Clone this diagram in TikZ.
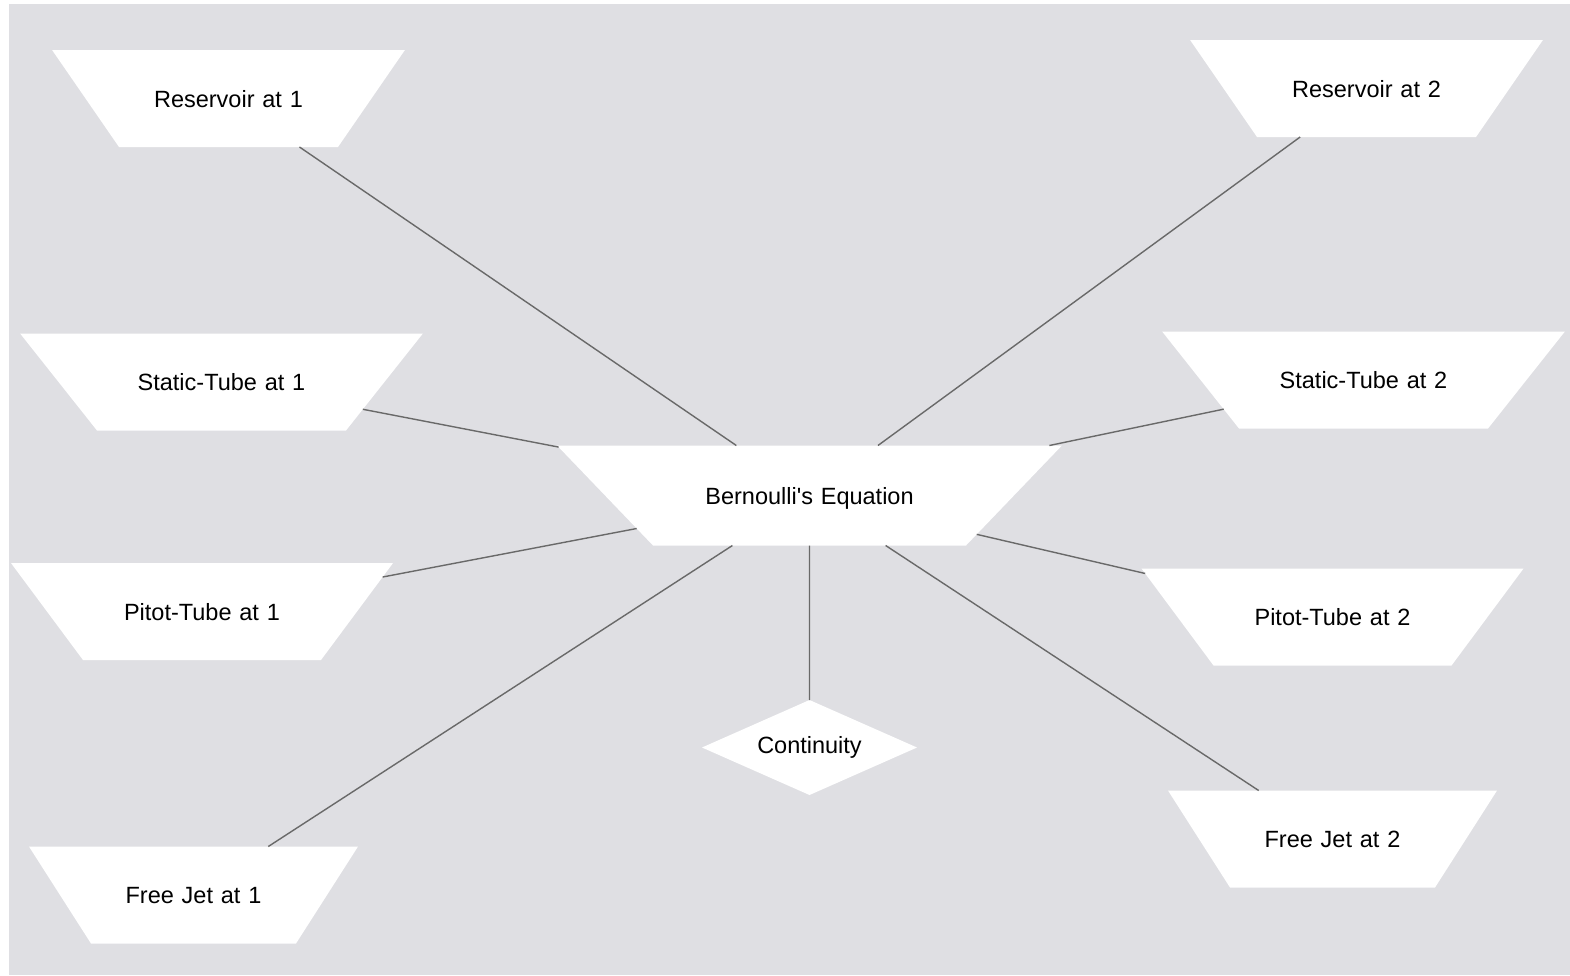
\documentclass[tikz,border=0pt]{standalone}
\usepackage{fontspec}
\newfontfamily\labelfont{Liberation Sans}
\usetikzlibrary{shapes.geometric}
\definecolor{canvas}{RGB}{223,223,227}
\definecolor{wire}{RGB}{105,105,105}
\tikzset{
  % inverted trapezium: #1 = width of the narrow base, #2 = side angle
  topic/.style 2 args={trapezium, shape border rotate=180,
    trapezium angle=#2, fill=white, draw=none, inner sep=0pt, outer sep=0pt,
    text width=#1, align=center, text height=57pt, text depth=40pt,
    font=\labelfont\fontsize{23.5}{26}\selectfont},
  check/.style={diamond, aspect=2.26, fill=white, draw=none, inner sep=0pt,
    outer sep=0pt, minimum width=215pt, minimum height=95pt,
    font=\labelfont\fontsize{23.5}{26}\selectfont},
  link/.style={draw=wire, line width=1.4pt}
}
\begin{document}
\begin{tikzpicture}[x=1pt,y=-1pt]
  \useasboundingbox (0,0) rectangle (1570,975);
  \fill[white] (0,0) rectangle (1570,975);
  \fill[canvas] (9,4) rectangle (1570,975);

  % central concept and the cases that feed it
  \node[topic={313pt}{46.2}, text height=58.5pt, text depth=41.5pt] (bern) at (809.5,495.5) {Bernoulli's Equation};

  \node[topic={219pt}{55.4}] (res1) at (228.5,98.5) {Reservoir at 1};
  \node[topic={219pt}{55.4}] (res2) at (1366.5,88.5) {Reservoir at 2};
  \node[topic={249pt}{51.6}] (st1) at (221.5,382) {Static-Tube at 1};
  \node[topic={249pt}{51.6}] (st2) at (1363.5,380) {Static-Tube at 2};
  \node[topic={238pt}{53.4}] (pt1) at (202,611.5) {Pitot-Tube at 1};
  \node[topic={238pt}{53.4}] (pt2) at (1332.5,617) {Pitot-Tube at 2};
  \node[topic={205pt}{57.4}] (fj1) at (193.5,895) {Free Jet at 1};
  \node[topic={205pt}{57.4}] (fj2) at (1332.5,839) {Free Jet at 2};

  \node[check] (cont) at (809.5,747.5) {Continuity};

  % connectors
  \foreach \n in {res1,res2,st1,st2,pt1,pt2,fj1,fj2}
    \draw[link] (\n) -- (bern);
  \draw[link] (bern) -- (cont);
\end{tikzpicture}
\end{document}
